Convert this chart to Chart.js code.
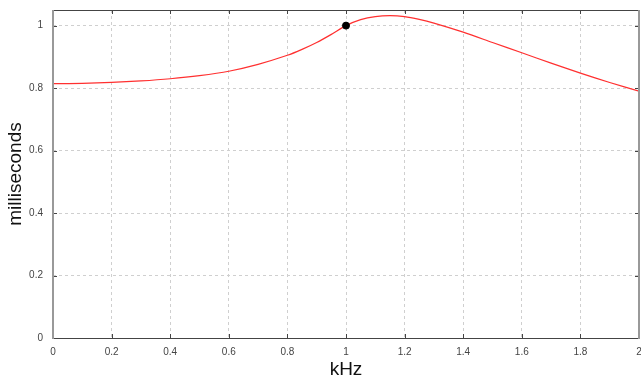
<!DOCTYPE html>
<html>
<head>
<meta charset="utf-8">
<script src="https://cdn.jsdelivr.net/npm/chart.js@4"></script>
<style>
  body { margin: 0; background: #fff; }
</style>
</head>
<body>
<canvas id="delay" width="641" height="381"></canvas>
<script>
// frequency (kHz) and delay (ms)
const freqs = [0, 0.1, 0.2, 0.3, 0.4, 0.5, 0.6, 0.7, 0.8, 0.85, 0.9, 0.95, 1.0, 1.05, 1.1, 1.15, 1.2, 1.25, 1.3, 1.4, 1.5, 1.6, 1.7, 1.8, 1.9, 2.0];
const delays = [0.814, 0.815, 0.818, 0.823, 0.830, 0.840, 0.854, 0.876, 0.905, 0.924, 0.946, 0.972, 1.0, 1.019, 1.029, 1.032, 1.029, 1.020, 1.008, 0.979, 0.946, 0.913, 0.880, 0.848, 0.818, 0.790];
const markFreq = [1.0];
const markDelay = [1.0];
const yTicks = [0, 0.2, 0.4, 0.6, 0.8, 1];

const font = "'Liberation Sans', Arial, sans-serif";
const fmt = v => String(+Number(v).toFixed(1));

// frame with small inward ticks, like the original plot
const framePlugin = {
  id: "frame",
  afterDraw(chart) {
    const c = chart.ctx, a = chart.chartArea;
    const xs = chart.scales.x, ys = chart.scales.y;
    c.save();
    c.lineWidth = 1;
    c.strokeStyle = "#444";
    c.beginPath();
    c.moveTo(a.left, a.top + 0.5); c.lineTo(a.right, a.top + 0.5);
    c.moveTo(a.left, a.bottom + 0.5); c.lineTo(a.right, a.bottom + 0.5);
    xs.ticks.forEach(t => {
      const px = Math.round(xs.getPixelForValue(t.value)) + 0.5;
      c.moveTo(px, a.top); c.lineTo(px, a.top + 4);
      c.moveTo(px, a.bottom); c.lineTo(px, a.bottom - 4);
    });
    ys.ticks.forEach(t => {
      const py = Math.round(ys.getPixelForValue(t.value)) + 0.5;
      c.moveTo(a.left, py); c.lineTo(a.left + 4, py);
      c.moveTo(a.right, py); c.lineTo(a.right - 4, py);
    });
    c.stroke();
    c.lineWidth = 2;
    c.strokeStyle = "#999";
    c.beginPath();
    c.moveTo(a.left, a.top); c.lineTo(a.left, a.bottom + 1);
    c.moveTo(a.right, a.top); c.lineTo(a.right, a.bottom + 1);
    c.stroke();
    c.restore();
  }
};

new Chart(document.getElementById("delay"), {
  type: "line",
  data: {
    datasets: [
      {
        data: markFreq.map((f, i) => ({ x: f, y: markDelay[i] })),
        showLine: false,
        pointRadius: 3.5,
        pointBackgroundColor: "#000",
        pointBorderColor: "#000"
      },
      {
        data: freqs.map((f, i) => ({ x: f, y: delays[i] })),
        borderColor: "#ff3030",
        borderWidth: 1.2,
        pointRadius: 0,
        tension: 0.3,
        fill: false
      }
    ]
  },
  plugins: [framePlugin],
  options: {
    responsive: false,
    animation: false,
    layout: { autoPadding: false, padding: { top: 10, right: 2, left: 0, bottom: 0 } },
    plugins: { legend: { display: false }, tooltip: { enabled: false } },
    scales: {
      x: {
        type: "linear",
        min: 0,
        max: 2,
        ticks: { stepSize: 0.2, padding: 8, color: "#444", font: { family: font, size: 10 }, maxRotation: 0, callback: fmt },
        grid: { color: "#cfcfcf", drawTicks: false },
        border: { display: false, dash: [3, 3] },
        title: { display: true, text: "kHz", color: "#111", font: { family: font, size: 19 }, padding: { top: 0, bottom: 0 } },
        afterFit(s) { s.height = 43; s.paddingLeft = 0; s.paddingRight = 0; }
      },
      y: {
        min: 0,
        max: 1.05,
        ticks: { padding: 10, color: "#444", font: { family: font, size: 10 }, callback: fmt },
        afterBuildTicks(s) { s.ticks = yTicks.map(v => ({ value: v })); },
        grid: { color: "#cfcfcf", drawTicks: false },
        border: { display: false, dash: [3, 3] },
        title: { display: true, text: "milliseconds", color: "#111", font: { family: font, size: 19 }, padding: { top: 4, bottom: 0 } },
        afterFit(s) { s.width = 53; s.paddingTop = 0; s.paddingBottom = 0; }
      }
    }
  }
});
</script>
</body>
</html>
